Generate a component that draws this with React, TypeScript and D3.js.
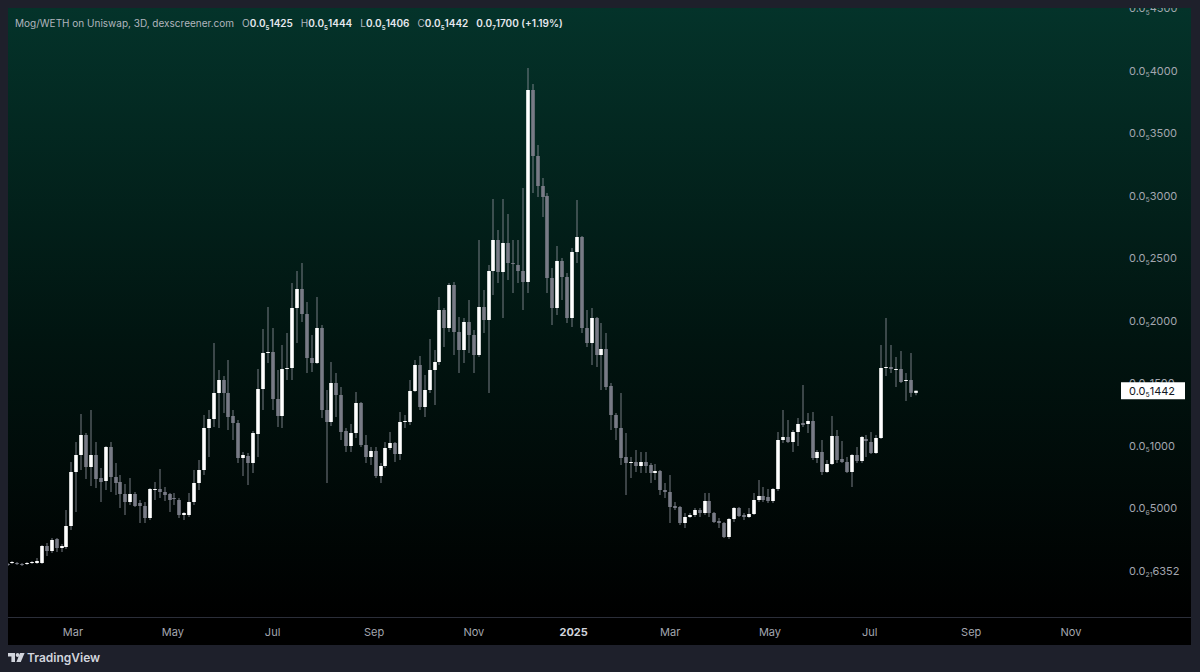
import React from "react";
import * as d3 from "d3";

// Mog/WETH 3D candles, prices in units of 1e-6 WETH
const firstCandle = Date.UTC(2024, 0, 21);
const stepDays = 3;

const opens = [
  0.056, 0.064, 0.064, 0.056, 0.056, 0.064, 0.064, 0.064, 0.2, 0.16,
  0.256, 0.184, 0.192, 0.36, 0.792, 0.928, 1.088, 0.832, 0.928, 0.744,
  0.72, 0.992, 0.752, 0.712, 0.616, 0.552, 0.616, 0.544, 0.52, 0.424,
  0.648, 0.656, 0.632, 0.616, 0.584, 0.568, 0.448, 0.448, 0.552, 0.704,
  0.808, 1.144, 1.216, 1.424, 1.528, 1.424, 1.24, 1.184, 0.904, 0.92,
  0.864, 1.096, 1.456, 1.744, 1.752, 1.376, 1.24, 1.616, 1.624, 2.104,
  2.256, 2.056, 1.704, 1.664, 1.944, 1.288, 1.192, 1.504, 1.408, 1.12,
  1.0, 1.104, 1.344, 1.008, 0.912, 0.96, 0.76, 0.84, 0.984, 1.024,
  0.936, 1.192, 1.192, 1.44, 1.648, 1.312, 1.448, 1.608, 1.672, 2.088,
  1.944, 2.288, 1.912, 1.768, 1.992, 1.888, 1.728, 2.112, 2.008, 2.4,
  2.648, 2.392, 2.624, 2.464, 2.448, 2.4, 2.312, 3.848, 3.32, 3.08,
  3.0, 2.344, 2.104, 2.48, 2.352, 2.024, 2.552, 2.672, 1.944, 1.824,
  2.024, 1.728, 1.776, 1.48, 1.248, 1.144, 0.912, 0.864, 0.872, 0.84,
  0.872, 0.848, 0.784, 0.8, 0.648, 0.632, 0.52, 0.512, 0.384, 0.432,
  0.448, 0.488, 0.464, 0.56, 0.464, 0.4, 0.384, 0.272, 0.416, 0.504,
  0.448, 0.432, 0.456, 0.568, 0.6, 0.592, 0.56, 0.656, 1.048, 1.072,
  1.032, 1.112, 1.184, 1.176, 1.2, 0.904, 0.952, 0.792, 0.856, 1.08,
  0.896, 0.872, 0.792, 0.928, 0.88, 1.056, 1.032, 0.944, 1.064, 1.624,
  1.632, 1.608, 1.616, 1.52, 1.528, 1.425,
];
const highs = [
  0.064, 0.08, 0.072, 0.064, 0.072, 0.08, 0.104, 0.208, 0.224, 0.264,
  0.264, 0.216, 0.488, 0.872, 1.032, 1.256, 1.104, 1.288, 1.032, 0.824,
  1.0, 1.032, 0.864, 0.768, 0.696, 0.744, 0.632, 0.568, 0.552, 0.664,
  0.712, 0.816, 0.672, 0.624, 0.624, 0.584, 0.472, 0.624, 0.808, 0.888,
  1.248, 1.288, 1.824, 1.608, 1.56, 1.688, 1.288, 1.208, 0.952, 0.944,
  1.12, 1.616, 1.936, 2.112, 1.944, 1.608, 1.808, 1.904, 2.304, 2.4,
  2.464, 2.152, 1.888, 2.192, 1.968, 1.448, 1.672, 1.584, 1.472, 1.144,
  1.176, 1.432, 1.352, 1.088, 0.992, 0.992, 0.864, 1.032, 1.112, 1.032,
  1.272, 1.248, 1.528, 1.688, 1.72, 1.568, 1.856, 1.768, 2.192, 2.104,
  2.304, 2.312, 2.032, 2.024, 2.168, 1.928, 2.648, 2.248, 2.448, 2.976,
  2.728, 2.976, 2.856, 2.648, 2.648, 3.064, 4.024, 3.896, 3.408, 3.144,
  3.024, 2.424, 2.6, 2.504, 2.384, 2.584, 2.968, 2.68, 2.088, 2.104,
  2.032, 1.984, 1.904, 1.504, 1.264, 1.424, 1.104, 0.912, 0.968, 0.952,
  0.952, 0.864, 0.856, 0.808, 0.704, 0.768, 0.552, 0.52, 0.464, 0.464,
  0.504, 0.504, 0.624, 0.624, 0.472, 0.424, 0.392, 0.424, 0.512, 0.512,
  0.464, 0.504, 0.624, 0.728, 0.672, 0.656, 0.664, 1.112, 1.288, 1.208,
  1.128, 1.224, 1.488, 1.264, 1.272, 0.968, 1.048, 0.888, 1.24, 1.128,
  1.04, 0.912, 0.936, 0.992, 1.08, 1.088, 1.112, 1.088, 1.808, 2.024,
  1.808, 1.712, 1.76, 1.584, 1.744, 1.444,
];
const lows = [
  0.04, 0.056, 0.048, 0.04, 0.048, 0.056, 0.056, 0.056, 0.12, 0.144,
  0.152, 0.152, 0.176, 0.328, 0.472, 0.808, 0.736, 0.68, 0.664, 0.552,
  0.648, 0.632, 0.608, 0.504, 0.448, 0.528, 0.512, 0.384, 0.384, 0.408,
  0.568, 0.584, 0.56, 0.472, 0.528, 0.424, 0.408, 0.432, 0.528, 0.648,
  0.768, 0.912, 1.152, 1.144, 1.264, 1.128, 1.048, 0.864, 0.76, 0.688,
  0.784, 0.912, 1.288, 1.664, 1.288, 1.152, 1.144, 1.528, 1.528, 1.824,
  1.992, 1.584, 1.592, 1.656, 1.224, 0.704, 1.16, 1.232, 1.048, 0.952,
  0.952, 1.064, 0.992, 0.864, 0.848, 0.744, 0.704, 0.824, 0.968, 0.872,
  0.888, 1.144, 1.168, 1.432, 1.288, 1.232, 1.424, 1.328, 1.648, 1.792,
  1.912, 1.728, 1.584, 1.664, 1.744, 1.584, 1.712, 1.904, 1.424, 2.208,
  2.304, 2.024, 2.328, 2.224, 2.304, 2.088, 2.224, 3.024, 2.992, 2.832,
  2.224, 1.968, 2.048, 2.168, 1.984, 1.952, 2.464, 1.904, 1.792, 1.648,
  1.632, 1.448, 1.448, 1.128, 1.048, 0.848, 0.608, 0.744, 0.792, 0.784,
  0.784, 0.704, 0.728, 0.608, 0.584, 0.384, 0.488, 0.368, 0.344, 0.424,
  0.432, 0.432, 0.448, 0.432, 0.384, 0.344, 0.264, 0.256, 0.392, 0.432,
  0.408, 0.424, 0.448, 0.552, 0.552, 0.544, 0.544, 0.64, 1.024, 1.024,
  0.952, 1.0, 1.152, 1.104, 0.888, 0.864, 0.768, 0.784, 0.848, 0.864,
  0.864, 0.784, 0.672, 0.864, 0.864, 0.912, 0.936, 0.936, 1.056, 1.56,
  1.584, 1.472, 1.504, 1.36, 1.392, 1.406,
];
const closes = [
  0.048, 0.072, 0.056, 0.048, 0.064, 0.072, 0.08, 0.2, 0.16, 0.248,
  0.184, 0.2, 0.36, 0.792, 0.928, 1.088, 0.832, 0.928, 0.736, 0.712,
  0.992, 0.752, 0.704, 0.616, 0.552, 0.616, 0.52, 0.52, 0.424, 0.656,
  0.656, 0.632, 0.608, 0.568, 0.576, 0.448, 0.464, 0.552, 0.704, 0.808,
  1.144, 1.216, 1.424, 1.528, 1.424, 1.232, 1.184, 0.904, 0.928, 0.864,
  1.104, 1.456, 1.744, 1.752, 1.376, 1.24, 1.616, 1.624, 2.104, 2.256,
  2.056, 1.704, 1.664, 1.944, 1.288, 1.192, 1.504, 1.408, 1.112, 1.0,
  1.104, 1.344, 1.008, 0.912, 0.96, 0.76, 0.84, 0.984, 1.024, 0.936,
  1.192, 1.2, 1.44, 1.648, 1.312, 1.448, 1.608, 1.672, 2.088, 1.944,
  2.288, 1.912, 1.768, 1.992, 1.888, 1.728, 2.112, 2.008, 2.4, 2.648,
  2.392, 2.624, 2.464, 2.456, 2.4, 2.312, 3.848, 3.32, 3.08, 2.992,
  2.344, 2.104, 2.48, 2.352, 2.024, 2.552, 2.672, 1.944, 1.824, 2.024,
  1.728, 1.776, 1.472, 1.248, 1.144, 0.904, 0.864, 0.872, 0.84, 0.872,
  0.84, 0.784, 0.8, 0.648, 0.632, 0.512, 0.504, 0.384, 0.432, 0.448,
  0.488, 0.464, 0.56, 0.464, 0.392, 0.384, 0.272, 0.416, 0.504, 0.44,
  0.432, 0.456, 0.568, 0.6, 0.568, 0.56, 0.656, 1.048, 1.072, 1.032,
  1.112, 1.176, 1.168, 1.2, 0.904, 0.952, 0.792, 0.856, 1.08, 0.888,
  0.872, 0.792, 0.928, 0.88, 1.072, 1.04, 0.944, 1.064, 1.624, 1.632,
  1.616, 1.616, 1.512, 1.528, 1.425, 1.442,
];

// axis ticks
const yTicks = [0, 0.5, 1, 1.5, 2, 2.5, 3, 3.5, 4, 4.5];
const yTickLabels: [string, string][] = [
  ["21", "6352"], ["6", "5000"], ["5", "1000"], ["5", "1500"], ["5", "2000"],
  ["5", "2500"], ["5", "3000"], ["5", "3500"], ["5", "4000"], ["5", "4500"],
];
const xTickDates = [
  "2024-03-01", "2024-05-01", "2024-07-01", "2024-09-01", "2024-11-01", "2025-01-01",
  "2025-03-01", "2025-05-01", "2025-07-01", "2025-09-01", "2025-11-01",
];
const xTickLabels = ["Mar", "May", "Jul", "Sep", "Nov", "2025", "Mar", "May", "Jul", "Sep", "Nov"];

const W = 1200;
const H = 672;
const pane = { left: 8, top: 8, right: 1191, bottom: 617 };
const axisBottom = 645;
const FONT = "Inter, Roboto, sans-serif";

// 0.0₅1425 style notation: [zeros, 4 significant digits]
function fmt(v: number): [string, string] {
  const p = v * 1e-6;
  const zeros = Math.floor(-Math.log10(p));
  return [String(zeros), String(Math.round(p * Math.pow(10, zeros + 4)))];
}

function Price({ sub, digits }: { sub: string; digits: string }) {
  return (
    <>
      <tspan>0.0</tspan>
      <tspan fontSize="0.62em" dy={2.5}>{sub}</tspan>
      <tspan dy={-2.5}>{digits}</tspan>
    </>
  );
}

export default function App() {
  const x = d3
    .scaleUtc()
    .domain([new Date("2024-03-01"), new Date("2025-11-01")])
    .range([73, 1071]);
  const y = d3.scaleLinear().domain([0, 4.5]).range([571, 8.5]);

  const candles = opens.map((o, i) => ({
    date: d3.utcDay.offset(new Date(firstCandle), i * stepDays),
    o,
    h: highs[i],
    l: lows[i],
    c: closes[i],
  }));
  const last = candles[candles.length - 1];
  const prev = candles[candles.length - 2];
  const change = last.c - prev.c;
  const pct = ((change / prev.c) * 100).toFixed(2);
  const bodyW = 3.6;

  const legend: [string, number][] = [
    ["O", last.o],
    ["H", last.h],
    ["L", last.l],
    ["C", last.c],
  ];

  return (
    <svg
      width={W}
      height={H}
      style={{ position: "absolute", left: 0, top: 0, display: "block" }}
      fontFamily={FONT}
    >
      <defs>
        <linearGradient id="bg" x1="0" y1="0" x2="0" y2="1">
          <stop offset="0" stopColor="#04332a" />
          <stop offset="0.55" stopColor="#011410" />
          <stop offset="1" stopColor="#000000" />
        </linearGradient>
        <clipPath id="paneClip">
          <rect x={pane.left} y={pane.top} width={pane.right - pane.left} height={pane.bottom - pane.top} />
        </clipPath>
      </defs>

      <rect width={W} height={H} fill="#1e202b" />
      <rect
        x={pane.left}
        y={pane.top}
        width={pane.right - pane.left}
        height={pane.bottom - pane.top}
        fill="url(#bg)"
      />
      <rect x={pane.left} y={pane.bottom} width={pane.right - pane.left} height={axisBottom - pane.bottom} fill="#000" />
      <line x1={pane.left} x2={pane.right} y1={pane.bottom + 0.5} y2={pane.bottom + 0.5} stroke="#2b2e39" />

      {/* candles */}
      <g clipPath="url(#paneClip)">
        {candles.map((d, i) => {
          const cx = Math.round(x(d.date));
          const up = d.c >= d.o;
          const top = y(Math.max(d.o, d.c));
          const bh = Math.max(1, Math.abs(y(d.o) - y(d.c)));
          return (
            <g key={i}>
              <rect x={cx - 0.5} y={y(d.h)} width={1} height={y(d.l) - y(d.h)} fill="#8b8f98" opacity={0.85} />
              <rect x={cx - bodyW / 2} y={top} width={bodyW} height={bh} fill={up ? "#ffffff" : "#787b86"} />
            </g>
          );
        })}

        {/* price scale */}
        {yTicks.map((t, i) => (
          <text key={t} x={1129} y={y(t)} dy="0.35em" fontSize={11} fill="#a3a6af">
            <Price sub={yTickLabels[i][0]} digits={yTickLabels[i][1]} />
          </text>
        ))}
      </g>

      {/* last price label */}
      <rect x={1121} y={y(last.c) - 8.5} width={64} height={17} fill="#ffffff" />
      <text x={1129} y={y(last.c)} dy="0.35em" fontSize={11} fill="#131722">
        <Price sub={fmt(last.c)[0]} digits={fmt(last.c)[1]} />
      </text>

      {/* time scale */}
      {xTickDates.map((s, i) => (
        <text
          key={s}
          x={x(new Date(s))}
          y={632}
          dy="0.35em"
          textAnchor="middle"
          fontSize={11}
          fontWeight={xTickLabels[i] === "2025" ? 700 : 400}
          fill={xTickLabels[i] === "2025" ? "#d1d4dc" : "#a3a6af"}
        >
          {xTickLabels[i]}
        </text>
      ))}

      {/* legend, one flowing line */}
      <text x={15} y={27} fontSize={10} fill="#b2b5be">
        <tspan>Mog/WETH on Uniswap, 3D, dexscreener.com</tspan>
        {legend.map(([k, v]) => (
          <React.Fragment key={k}>
            <tspan dx={8}>{k}</tspan>
            <tspan fill="#e6e8ee" fontWeight={600}>
              <Price sub={fmt(v)[0]} digits={fmt(v)[1]} />
            </tspan>
          </React.Fragment>
        ))}
        <tspan dx={8} fill="#e6e8ee" fontWeight={600}>
          <Price sub={fmt(change)[0]} digits={fmt(change)[1]} />
          <tspan> (+{pct}%)</tspan>
        </tspan>
      </text>

      {/* footer logo */}
      <g fill="#d1d4dc">
        <path d="M8 653h7v9h-3.6v-5.6H8z" />
        <circle cx={17.6} cy={655} r={1.9} />
        <path d="M20 653h4.6l-3.8 9h-4.4z" />
      </g>
      <text x={27} y={661.5} fontSize={12} fontWeight={600} fill="#d1d4dc">
        TradingView
      </text>
    </svg>
  );
}
